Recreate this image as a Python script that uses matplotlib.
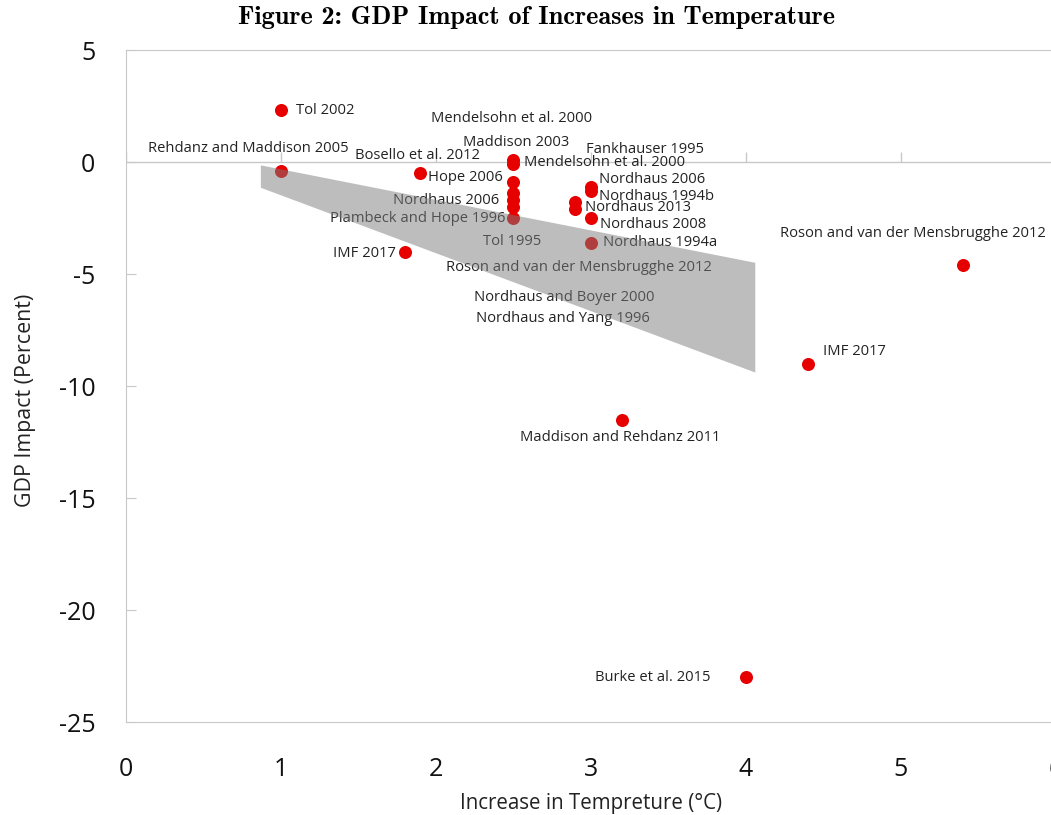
import numpy as np
import matplotlib
matplotlib.use('Agg')
import matplotlib.pyplot as plt

plt.rcParams['font.family'] = ['Open Sans', 'DejaVu Sans']
plt.rcParams['axes.unicode_minus'] = False

# study estimates: warming (deg C) vs GDP impact (percent)
temp = [1.0, 1.0, 1.9, 1.8, 2.5, 2.5, 2.5, 2.5, 2.5, 2.5, 2.5,
        2.9, 2.9, 3.0, 3.0, 3.0, 3.0, 3.2, 4.0, 4.4, 5.4]
impact = [2.3, -0.4, -0.5, -4.0, 0.1, -0.1, -0.9, -1.4, -1.7, -2.0, -2.5,
          -1.8, -2.1, -1.1, -1.3, -2.5, -3.6, -11.5, -23.0, -9.0, -4.6]

# shaded range of the central estimates
band_x = [0.87, 4.06, 4.06, 0.87]
band_y = [-0.15, -4.5, -9.4, -1.15]

# labels and where their text sits
labels = ['Tol 2002', 'Mendelsohn et al. 2000', 'Rehdanz and Maddison 2005',
          'Maddison 2003', 'Fankhauser 1995', 'Bosello et al. 2012',
          'Mendelsohn et al. 2000', 'Hope 2006', 'Nordhaus 2006',
          'Plambeck and Hope 1996', 'Tol 1995',
          'Roson and van der Mensbrugghe 2012', 'Nordhaus and Boyer 2000',
          'Nordhaus and Yang 1996', 'Nordhaus 2006', 'Nordhaus 1994b',
          'Nordhaus 2013', 'Nordhaus 2008', 'Nordhaus 1994a', 'IMF 2017',
          'Roson and van der Mensbrugghe 2012', 'IMF 2017',
          'Maddison and Rehdanz 2011', 'Burke et al. 2015']
label_pos = [(1.10, 2.28, 'left'), (2.49, 1.96, 'center'), (0.79, 0.62, 'center'),
             (2.52, 0.85, 'center'), (2.97, 0.58, 'left'), (1.88, 0.31, 'center'),
             (2.57, -0.04, 'left'), (1.95, -0.71, 'left'), (2.41, -1.70, 'right'),
             (2.45, -2.50, 'right'), (2.49, -3.53, 'center'),
             (2.92, -4.69, 'center'), (2.83, -6.03, 'center'),
             (2.82, -7.00, 'center'), (3.05, -0.76, 'left'), (3.05, -1.52, 'left'),
             (2.96, -2.05, 'left'), (3.06, -2.81, 'left'), (3.08, -3.60, 'left'),
             (1.74, -4.10, 'right'), (4.22, -3.20, 'left'), (4.50, -8.44, 'left'),
             (3.19, -12.28, 'center'), (3.77, -23.00, 'right')]

xticks = [0, 1, 2, 3, 4, 5, 6]
yticks = [5, 0, -5, -10, -15, -20, -25]

fig = plt.figure(figsize=(10.51, 8.15), dpi=100)
ax = fig.add_axes([126/1051, 93/815, 930/1051, 672/815])

ax.scatter(temp, impact, s=88, color='#e60000', zorder=3, linewidths=0)
for txt, (lx, ly, ha) in zip(labels, label_pos):
    ax.text(lx, ly, txt, ha=ha, va='center', fontsize=10.6, color='#222222', zorder=4)
ax.fill(band_x, band_y, color='#7d7d7d', alpha=0.5, linewidth=0, zorder=5)

ax.axhline(0, color='#c8c8c8', lw=1, zorder=1)
ax.plot(xticks, np.zeros(len(xticks)), ls='none', marker=2, ms=7, mew=1,
        color='#c8c8c8', zorder=1)

ax.set_xlim(0, 6)
ax.set_ylim(-25, 5)
ax.set_xticks(xticks)
ax.set_yticks(yticks)
ax.tick_params(axis='x', length=0, pad=25, labelsize=18, labelcolor='#111111')
ax.tick_params(axis='y', direction='in', length=7, color='#c8c8c8', pad=22,
               labelsize=18, labelcolor='#111111')
for side in ['left', 'top', 'bottom', 'right']:
    ax.spines[side].set_color('#c8c8c8')

ax.set_xlabel('Increase in Tempreture (°C)', fontsize=14.8, color='#222222', labelpad=8)
ax.set_ylabel('GDP Impact (Percent)', fontsize=15.4, color='#222222')
ax.yaxis.set_label_coords(-0.097, 0.479)

fig.text(0.51, 0.978, 'Figure 2: GDP Impact of Increases in Temperature',
         ha='center', va='center', fontsize=18.9, family='cmb10')

fig.savefig('out.png', dpi=100)
